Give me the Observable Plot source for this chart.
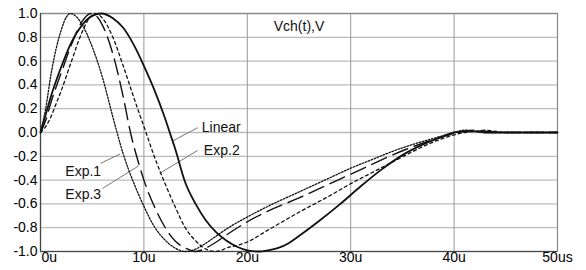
<!DOCTYPE html>
<html>
<head>
<meta charset="utf-8">
<script src="https://cdn.jsdelivr.net/npm/d3@7"></script>
<script src="https://cdn.jsdelivr.net/npm/@observablehq/plot@0.6"></script>
<style>
  html, body { margin: 0; padding: 0; background: #fff; }
  #chart svg { display: block; }
</style>
</head>
<body>
<div id="chart"></div>
<script>
// ---- data (time in microseconds, voltage in V) ----
const linearT = [0,0.5,1,2,3,4,5,5.9,7,8,9,10,11,12,12.5,13,14,15,16,17,18,19,20,21,22,23,24,25,27,29,31,33,35,37,39,40,41,42,43,50];
const linearV = [0,0.15,0.3,0.55,0.76,0.9,0.98,1.0,0.96,0.88,0.74,0.56,0.36,0.13,0,-0.13,-0.42,-0.6,-0.74,-0.84,-0.91,-0.96,-0.99,-1.0,-0.99,-0.97,-0.93,-0.87,-0.74,-0.6,-0.45,-0.31,-0.19,-0.1,-0.03,0,0.01,0.01,0,0];

const exp1T = [0,0.5,1,1.5,2,2.5,2.9,3.5,4,5,6,7,7.4,8,9,10,11,12,13,14,15,16,17,18,20,22,25,28,30,32,34,36,38,40,41,42,43,50];
const exp1V = [0,0.2,0.48,0.7,0.86,0.97,1.0,0.97,0.91,0.72,0.46,0.13,0,-0.18,-0.42,-0.62,-0.79,-0.9,-0.97,-1.0,-0.98,-0.93,-0.87,-0.81,-0.71,-0.62,-0.5,-0.38,-0.3,-0.23,-0.16,-0.1,-0.05,0,0.02,0.01,0,0];

const exp2T = [0,0.5,1,1.5,2,3,4,4.8,5.3,6,7,8,9,10,10.2,11,12,13,14,15,16,16.8,17.5,18,19,20,22,25,28,30,32,34,36,38,40,41,42,43,44,45,50];
const exp2V = [0,0.05,0.13,0.24,0.35,0.6,0.84,0.97,1.0,0.96,0.8,0.56,0.3,0.05,0,-0.2,-0.42,-0.62,-0.8,-0.91,-0.98,-1.0,-0.99,-0.97,-0.95,-0.92,-0.82,-0.67,-0.53,-0.43,-0.34,-0.25,-0.16,-0.08,-0.02,0,0.01,0.02,0.01,0,0];

const exp3T = [0,0.5,1,1.5,2,3,4,4.9,5.5,6,7,8,8.7,9.5,10,11,12,13,14,15,16,17,18,20,22,25,28,30,32,34,36,38,40,41,42,43,45,50];
const exp3V = [0,0.1,0.25,0.38,0.5,0.74,0.93,1.0,0.97,0.9,0.66,0.3,0,-0.26,-0.4,-0.62,-0.79,-0.91,-0.97,-1.0,-0.97,-0.92,-0.86,-0.75,-0.66,-0.55,-0.43,-0.35,-0.27,-0.19,-0.12,-0.06,-0.01,0.01,0.02,0.01,0,0];

const xTicks = [0,10,20,30,40,50];
const xTickLabels = ["0u","10u","20u","30u","40u","50us"];
const yTicks = [-1,-0.8,-0.6,-0.4,-0.2,0,0.2,0.4,0.6,0.8,1];

const seriesNames = ["Linear","Exp.1","Exp.2","Exp.3"];
// label anchors (text position) and leader-line endpoint on the curve, in data units
const labelT    = [15.6, 2.4, 15.8, 2.4];
const labelV    = [0.04, -0.33, -0.15, -0.52];
const leaderT0  = [15.2, 5.8, 15.2, 6.0];
const leaderV0  = [0.04, -0.26, -0.15, -0.47];
const leaderT1  = [12.8, 7.7, 11.6, 9.5];
const leaderV1  = [-0.07, -0.18, -0.34, -0.28];

const title = "Vch(t),V";

// ---- build rows ----
const rows = [];
const add = (name, T, V) => T.forEach((t, i) => rows.push({series: name, t, v: V[i]}));
add("Linear", linearT, linearV);
add("Exp.1", exp1T, exp1V);
add("Exp.2", exp2T, exp2V);
add("Exp.3", exp3T, exp3V);
const of = name => rows.filter(d => d.series === name);

const labels = seriesNames.map((s, i) => ({s, t: labelT[i], v: labelV[i]}));
const leaders = seriesNames.map((s, i) => ({s, t0: leaderT0[i], v0: leaderV0[i], t1: leaderT1[i], v1: leaderV1[i]}));

const fmtY = d => d.toFixed(1);

const chart = Plot.plot({
  width: 586,
  height: 270,
  marginLeft: 40,
  marginRight: 29,
  marginTop: 13,
  marginBottom: 19,
  style: {fontFamily: "'Liberation Sans', Arial, sans-serif", fontSize: "14px", color: "#000", background: "#fff"},
  x: {domain: [0, 50]},
  y: {domain: [-1, 1]},
  marks: [
    Plot.gridY(yTicks, {stroke: "#bbb", strokeOpacity: 1, strokeWidth: 1.3}),
    Plot.gridX(xTicks, {stroke: "#999", strokeOpacity: 1, strokeWidth: 1}),
    Plot.frame({stroke: "#888", strokeWidth: 1.2}),
    Plot.ruleX([0], {stroke: "#444", strokeWidth: 1.2}),
    Plot.ruleY([-1], {stroke: "#444", strokeWidth: 1.2}),
    Plot.axisY(yTicks, {tickSize: 0, tickPadding: 3, tickFormat: fmtY, fontSize: 14}),
    Plot.axisX([0], {tickSize: 0, tickPadding: 1, tickFormat: () => xTickLabels[0], textAnchor: "start", dx: 1, fontSize: 14}),
    Plot.axisX(xTicks.slice(1), {tickSize: 0, tickPadding: 1, tickFormat: (d) => xTickLabels[xTicks.indexOf(d)], fontSize: 14}),
    Plot.link(leaders, {x1: "t0", y1: "v0", x2: "t1", y2: "v1", stroke: "#777", strokeWidth: 1}),
    Plot.line(of("Exp.1"), {x: "t", y: "v", curve: "monotone-x", stroke: "#111", strokeWidth: 1.3, strokeDasharray: "1.6,1.6"}),
    Plot.line(of("Exp.2"), {x: "t", y: "v", curve: "monotone-x", stroke: "#111", strokeWidth: 1.3, strokeDasharray: "3,3"}),
    Plot.line(of("Exp.3"), {x: "t", y: "v", curve: "monotone-x", stroke: "#111", strokeWidth: 1.4, strokeDasharray: "16,7"}),
    Plot.line(of("Linear"), {x: "t", y: "v", curve: "monotone-x", stroke: "#111", strokeWidth: 1.8}),
    Plot.text(labels, {x: "t", y: "v", text: "s", textAnchor: "start", fontSize: 14, fill: "#111"}),
    Plot.text([title], {x: 25, y: 0.89, text: d => d, fontSize: 14, fill: "#111"})
  ]
});
document.getElementById("chart").appendChild(chart);
</script>
</body>
</html>
